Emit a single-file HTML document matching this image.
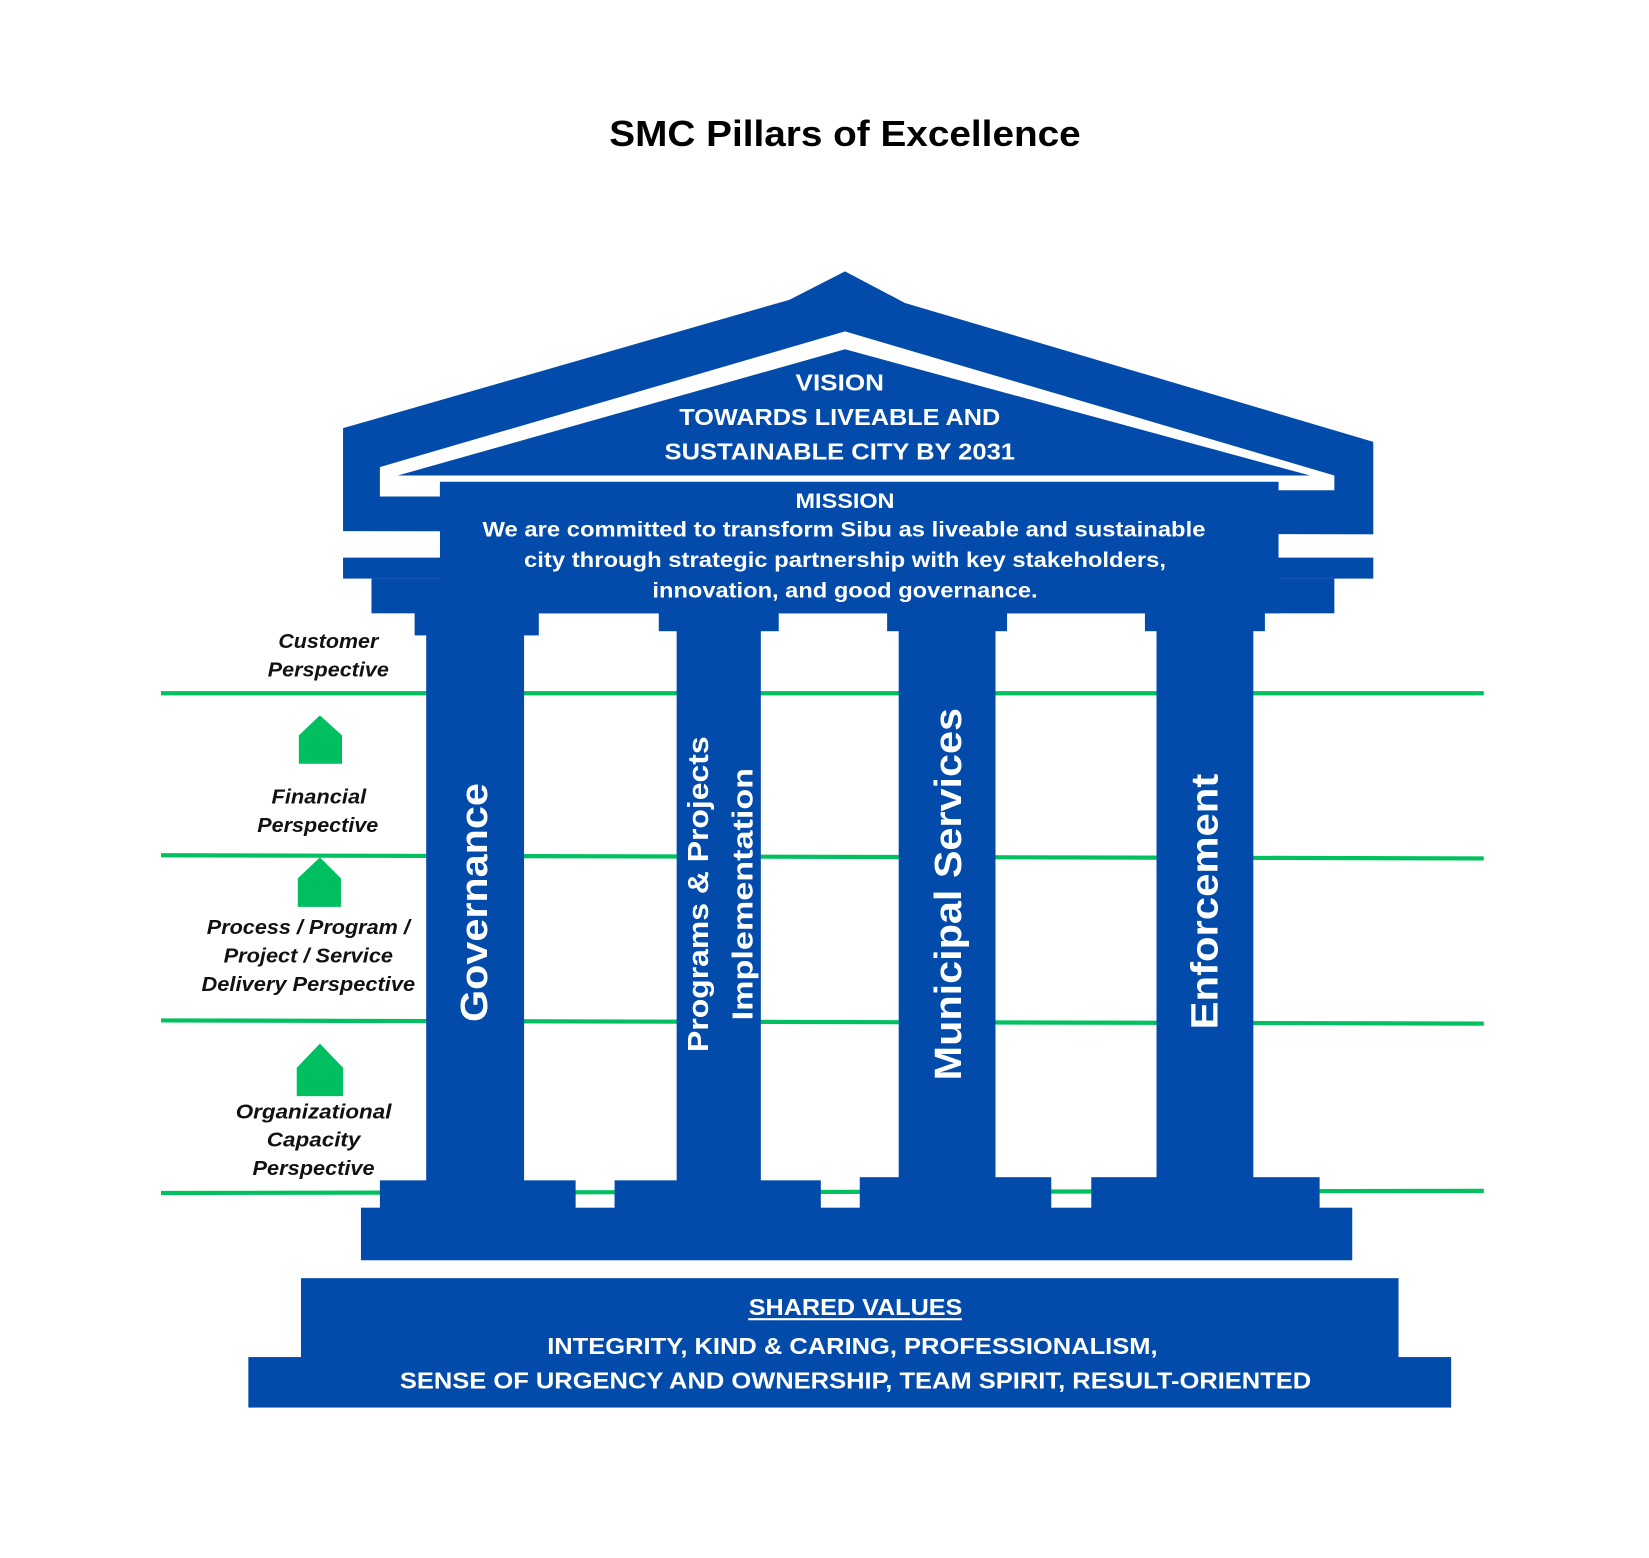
<!DOCTYPE html>
<html><head><meta charset="utf-8"><style>html,body{margin:0;padding:0;background:#fff}svg{display:block}</style></head>
<body>
<svg width="1649" height="1558" viewBox="0 0 1567 1481" preserveAspectRatio="none" xmlns="http://www.w3.org/2000/svg" font-family="Liberation Sans, sans-serif">
<rect width="1567" height="1481" fill="#fff"/>
<text x="803" y="139" text-anchor="middle" font-size="34" font-weight="bold" textLength="448" lengthAdjust="spacingAndGlyphs">SMC Pillars of Excellence</text>
<g stroke="#00c060" stroke-width="4">
<line x1="153" y1="659" x2="1410" y2="659"/>
<line x1="153" y1="813" x2="1410" y2="816"/>
<line x1="153" y1="970" x2="1410" y2="973"/>
<line x1="153" y1="1134" x2="1410" y2="1132"/>
</g>
<g fill="#00bf60">
<polygon points="284,699 304,680 325,699 325,726 284,726"/>
<polygon points="283,835 304,815 324,835 324,862 283,862"/>
<polygon points="282,1015 304,992 326,1015 326,1042 282,1042"/>
</g>
<g fill="#034bab">
<polygon points="326,407 750,285 803,258 860,288 1305,420 1305,508 326,505"/>
<rect x="326" y="530" width="979" height="20"/>
<rect x="353" y="550" width="915" height="33"/>
<rect x="418" y="458" width="797" height="125"/>
<rect x="394" y="580" width="118" height="24"/>
<rect x="626" y="580" width="114" height="20"/>
<rect x="843" y="580" width="114" height="20"/>
<rect x="1088" y="580" width="114" height="20"/>
<rect x="405" y="598" width="93" height="530"/>
<rect x="643" y="598" width="80" height="530"/>
<rect x="854" y="598" width="92" height="530"/>
<rect x="1099" y="598" width="92" height="530"/>
<rect x="361" y="1122" width="186" height="30"/>
<rect x="584" y="1122" width="196" height="30"/>
<rect x="817" y="1119" width="182" height="33"/>
<rect x="1037" y="1119" width="217" height="33"/>
<rect x="343" y="1148" width="942" height="50"/>
<rect x="286" y="1215" width="1043" height="80"/>
<rect x="236" y="1290" width="1143" height="48"/>
</g>
<polygon fill="#fff" points="361,444 803,315 1268,452 1268,466 1215,466 1215,458 418,458 418,472 361,472"/>
<polygon fill="#034bab" points="378,452 803,332 1245,452"/>
<rect x="326" y="505" width="92" height="25" fill="#fff"/>
<rect x="1215" y="508" width="90" height="22" fill="#fff"/>
<g fill="#fff" font-weight="bold" text-anchor="middle">
<text x="798" y="371" font-size="22" textLength="84" lengthAdjust="spacingAndGlyphs">VISION</text>
<text x="798" y="404" font-size="22" textLength="305" lengthAdjust="spacingAndGlyphs">TOWARDS LIVEABLE AND</text>
<text x="798" y="437" font-size="22" textLength="333" lengthAdjust="spacingAndGlyphs">SUSTAINABLE CITY BY 2031</text>
<text x="803" y="483" font-size="20" textLength="94" lengthAdjust="spacingAndGlyphs">MISSION</text>
<text x="802" y="510" font-size="20" textLength="687" lengthAdjust="spacingAndGlyphs">We are committed to transform Sibu as liveable and sustainable</text>
<text x="803" y="539" font-size="20" textLength="610" lengthAdjust="spacingAndGlyphs">city through strategic partnership with key stakeholders,</text>
<text x="803" y="568" font-size="20" textLength="366" lengthAdjust="spacingAndGlyphs">innovation, and good governance.</text>
<text x="813" y="1250" font-size="22" textLength="203" lengthAdjust="spacingAndGlyphs">SHARED VALUES</text>
<rect x="711" y="1253" width="203" height="2"/>
<text x="810" y="1287" font-size="22" textLength="580" lengthAdjust="spacingAndGlyphs">INTEGRITY, KIND &amp; CARING, PROFESSIONALISM,</text>
<text x="813" y="1320" font-size="22" textLength="866" lengthAdjust="spacingAndGlyphs">SENSE OF URGENCY AND OWNERSHIP, TEAM SPIRIT, RESULT-ORIENTED</text>
<text transform="translate(463,858) rotate(-90)" font-size="36" textLength="227" lengthAdjust="spacingAndGlyphs">Governance</text>
<text transform="translate(673,850) rotate(-90)" font-size="27" textLength="300" lengthAdjust="spacingAndGlyphs">Programs &amp; Projects</text>
<text transform="translate(715,850) rotate(-90)" font-size="27" textLength="240" lengthAdjust="spacingAndGlyphs">Implementation</text>
<text transform="translate(913,850) rotate(-90)" font-size="36" textLength="354" lengthAdjust="spacingAndGlyphs">Municipal Services</text>
<text transform="translate(1157,857) rotate(-90)" font-size="36" textLength="243" lengthAdjust="spacingAndGlyphs">Enforcement</text>
</g>
<g fill="#111" font-weight="bold" font-style="italic" font-size="19" text-anchor="middle">
<text x="312" y="616" textLength="95" lengthAdjust="spacingAndGlyphs">Customer</text>
<text x="312" y="643" textLength="115" lengthAdjust="spacingAndGlyphs">Perspective</text>
<text x="303" y="764" textLength="90" lengthAdjust="spacingAndGlyphs">Financial</text>
<text x="302" y="791" textLength="115" lengthAdjust="spacingAndGlyphs">Perspective</text>
<text x="293" y="888" textLength="193" lengthAdjust="spacingAndGlyphs">Process / Program /</text>
<text x="293" y="915" textLength="161" lengthAdjust="spacingAndGlyphs">Project / Service</text>
<text x="293" y="942" textLength="203" lengthAdjust="spacingAndGlyphs">Delivery Perspective</text>
<text x="298" y="1063" textLength="148" lengthAdjust="spacingAndGlyphs">Organizational</text>
<text x="298" y="1090" textLength="89" lengthAdjust="spacingAndGlyphs">Capacity</text>
<text x="298" y="1117" textLength="116" lengthAdjust="spacingAndGlyphs">Perspective</text>
</g>
</svg>
</body></html>
